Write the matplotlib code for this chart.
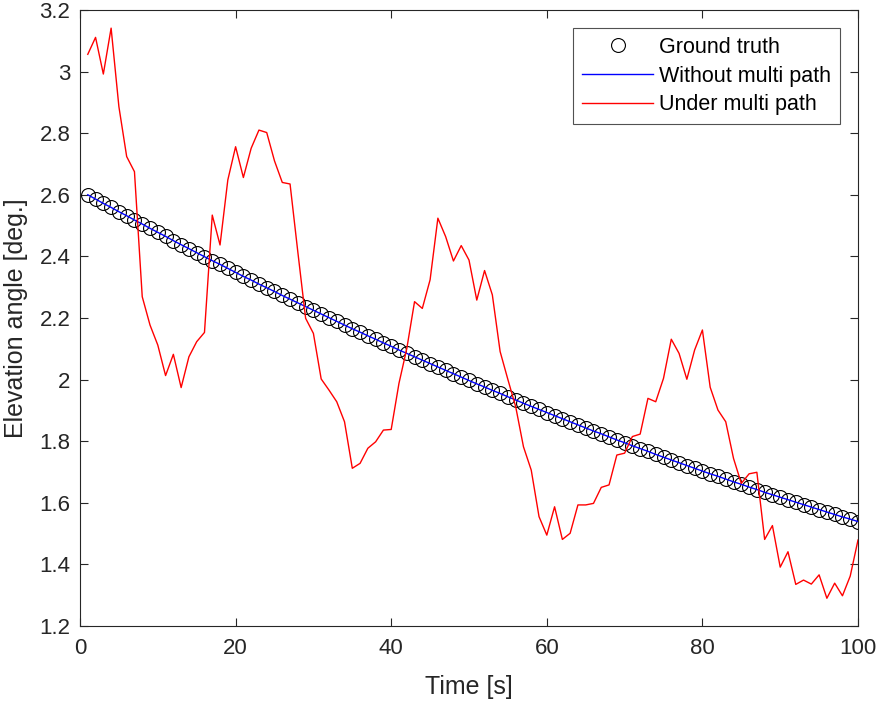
## Elevation angle vs time, with and without multipath
import matplotlib
matplotlib.use("Agg")
import matplotlib.pyplot as plt

plt.rcParams['font.family'] = ['Liberation Sans', 'DejaVu Sans']

## Data
time_s = list(range(1, 101))

ground_truth = [
    2.600, 2.586, 2.572, 2.559, 2.545, 2.532, 2.518, 2.505, 2.491, 2.478,
    2.465, 2.451, 2.438, 2.425, 2.412, 2.399, 2.386, 2.374, 2.361, 2.348,
    2.335, 2.323, 2.310, 2.298, 2.286, 2.273, 2.261, 2.249, 2.237, 2.225,
    2.213, 2.201, 2.189, 2.177, 2.165, 2.154, 2.142, 2.131, 2.119, 2.108,
    2.096, 2.085, 2.074, 2.063, 2.052, 2.041, 2.030, 2.019, 2.008, 1.997,
    1.986, 1.976, 1.965, 1.955, 1.944, 1.934, 1.923, 1.913, 1.903, 1.893,
    1.883, 1.873, 1.863, 1.853, 1.843, 1.833, 1.824, 1.814, 1.804, 1.795,
    1.785, 1.776, 1.767, 1.757, 1.748, 1.739, 1.730, 1.721, 1.712, 1.703,
    1.694, 1.686, 1.677, 1.668, 1.660, 1.651, 1.643, 1.634, 1.626, 1.618,
    1.610, 1.602, 1.594, 1.586, 1.578, 1.570, 1.562, 1.554, 1.547, 1.539,
]

without_mp = list(ground_truth)  # sits right on top of the ground truth

under_mp = [
    3.056, 3.111, 2.992, 3.141, 2.886, 2.724, 2.675, 2.269, 2.177, 2.112,
    2.013, 2.082, 1.974, 2.074, 2.123, 2.153, 2.534, 2.437, 2.648, 2.756,
    2.656, 2.751, 2.810, 2.802, 2.710, 2.640, 2.635, 2.414, 2.199, 2.150,
    2.002, 1.966, 1.928, 1.863, 1.712, 1.728, 1.777, 1.798, 1.836, 1.838,
    1.988, 2.100, 2.253, 2.231, 2.324, 2.524, 2.464, 2.385, 2.435, 2.388,
    2.258, 2.354, 2.275, 2.091, 2.000, 1.912, 1.782, 1.706, 1.555, 1.495,
    1.587, 1.481, 1.501, 1.593, 1.593, 1.598, 1.650, 1.658, 1.755, 1.761,
    1.815, 1.823, 1.939, 1.928, 2.004, 2.131, 2.085, 2.001, 2.096, 2.161,
    1.975, 1.901, 1.863, 1.744, 1.663, 1.694, 1.699, 1.481, 1.526, 1.391,
    1.441, 1.335, 1.349, 1.336, 1.366, 1.290, 1.339, 1.298, 1.362, 1.479,
]

y_ticks = [1.2, 1.4, 1.6, 1.8, 2.0, 2.2, 2.4, 2.6, 2.8, 3.0, 3.2]
y_tick_labels = ['1.2', '1.4', '1.6', '1.8', '2', '2.2', '2.4', '2.6', '2.8', '3', '3.2']
x_ticks = [0, 20, 40, 60, 80, 100]

## Plot
axis_gray = '#262626'
fig = plt.figure(figsize=(8.81, 7.02), dpi=100)
ax = fig.add_axes([0.0908, 0.1083, 0.8831, 0.8775])

ax.plot(time_s, ground_truth, linestyle='none', marker='o', markersize=10,
        markerfacecolor='none', markeredgecolor='black', markeredgewidth=0.8,
        label='Ground truth', zorder=2)
ax.plot(time_s, without_mp, color='blue', linewidth=1.0,
        label='Without multi path', zorder=3)
ax.plot(time_s, under_mp, color='red', linewidth=1.0,
        label='Under multi path', zorder=4)

ax.set_xlim(0, 100)
ax.set_ylim(1.2, 3.2)
ax.set_xticks(x_ticks)
ax.set_yticks(y_ticks)
ax.set_yticklabels(y_tick_labels)
ax.tick_params(direction='in', top=True, right=True, length=6, width=0.8,
               labelsize=16, colors=axis_gray)
ax.tick_params(axis='x', pad=9)
ax.tick_params(axis='y', pad=7)
for spine in ax.spines.values():
    spine.set_color(axis_gray)
    spine.set_linewidth(0.8)

ax.set_xlabel('Time [s]', fontsize=18, color=axis_gray, labelpad=11)
ax.set_ylabel('Elevation angle [deg.]', fontsize=18, color=axis_gray, labelpad=8)

leg = ax.legend(loc='upper right', fontsize=15.5, frameon=True, fancybox=False,
                edgecolor=axis_gray, borderaxespad=0.85, handlelength=3.3,
                handletextpad=0.28, borderpad=0.4, labelspacing=0.36)
leg.get_frame().set_linewidth(0.8)

fig.savefig('out.png', dpi=100)
